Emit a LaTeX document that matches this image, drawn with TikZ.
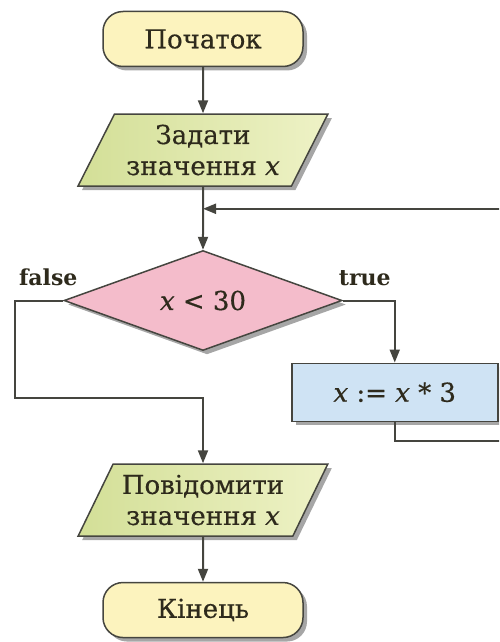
\documentclass[tikz,border=0pt]{standalone}
\usepackage{fontspec}
\setmainfont{DejaVu Serif}
\newfontfamily\boxfont{DejaVu Serif}[FakeBold=0.5]
\usepackage{xcolor}
\definecolor{termfill}{HTML}{FCF3BE}
\definecolor{iofillA}{HTML}{D3DF97}
\definecolor{iofillB}{HTML}{EEF2C6}
\definecolor{condfill}{HTML}{F4BCCB}
\definecolor{procfill}{HTML}{CFE3F4}
\definecolor{edgecol}{HTML}{45453F}
\definecolor{inkcol}{HTML}{2E2A1C}
\usepackage{tikz}
\usetikzlibrary{positioning, arrows.meta, shapes.geometric, shadows}

\begin{document}
\begin{tikzpicture}[
  x=0.5pt, y=-0.5pt,
  font=\boxfont\fontsize{13}{15.5}\selectfont, text=inkcol,
  shade/.style={drop shadow={shadow xshift=2pt, shadow yshift=-2pt, opacity=0.35, fill=black}},
  base/.style={draw=edgecol, line width=0.75pt, align=center, inner sep=0pt, shade},
  term/.style={base, rectangle, rounded corners=10pt, minimum width=100pt,
               minimum height=27.5pt, fill=termfill},
  io/.style={base, trapezium, trapezium left angle=58, trapezium right angle=122,
             trapezium stretches=true, minimum width=125pt, minimum height=36pt,
             left color=iofillA, right color=iofillB},
  cond/.style={base, diamond, aspect=2.78, minimum width=139pt, minimum height=50pt,
               fill=condfill},
  proc/.style={base, rectangle, minimum width=103pt, minimum height=29pt, fill=procfill},
  lbl/.style={font=\rmfamily\fontsize{11}{13}\selectfont\bfseries, inner sep=0pt},
  arr/.style={-{Triangle[length=6.5pt, width=5pt]}, draw=edgecol, line width=1pt},
  wire/.style={draw=edgecol, line width=1pt}
]
\path[use as bounding box] (0,0) rectangle (499,642);
\clip (0,0) rectangle (499,642);

\node[term] (start) at (203,39) {Початок};
\node[io, below=23pt of start] (inp) {Задати\\значення \textit{x}};
\node[cond, below=31.5pt of inp] (test) {\textit{x} < 30};
\node[proc, anchor=north] (mult) at ([xshift=26pt, yshift=-31pt]test.east) {\textit{x} := \textit{x} * 3};
\node[io, below=56pt of test] (outp) {Повідомити\\значення \textit{x}};
\node[term, below=22.5pt of outp] (stop) {Кінець};

\node[lbl, anchor=south] (flbl) at ([xshift=-7.5pt, yshift=7pt]test.west) {false};
\node[lbl, anchor=south] (tlbl) at ([xshift=11pt, yshift=7pt]test.east) {true};

\coordinate (fbend) at (15,398);
\coordinate (lbend) at (510,441);
\coordinate (ljoin) at ([yshift=-11pt]inp.south);

\draw[arr] (start) -- (inp);
\draw[arr] (inp) -- (test);
\draw[arr] (test.east) -| (mult.north);
\draw[arr] (test.west) -| (fbend) -| (outp.north);
\draw[arr] (mult.south) |- (lbend) |- (ljoin);
\draw[arr] (outp) -- (stop);
\end{tikzpicture}
\end{document}
